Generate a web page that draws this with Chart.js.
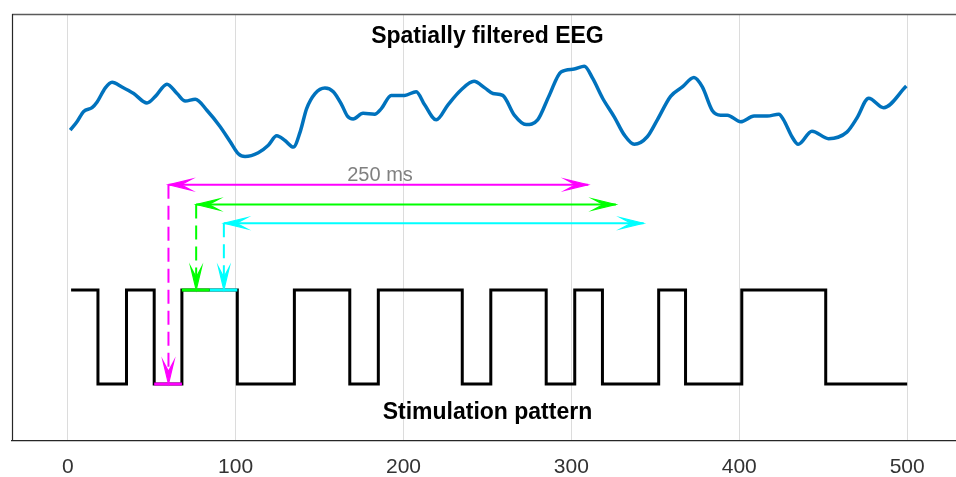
<!DOCTYPE html>
<html>
<head>
<meta charset="utf-8">
<script src="https://cdn.jsdelivr.net/npm/chart.js@4.4.1/dist/chart.umd.min.js"></script>
<style>
  html, body { margin: 0; padding: 0; background: #ffffff; }
  #wrap { width: 956px; height: 477px; }
</style>
</head>
<body>
<div id="wrap"><canvas id="c" width="956" height="477"></canvas></div>
<script>
// x axis (ms)
const xTicks = [0, 100, 200, 300, 400, 500];

// spatially filtered EEG trace
const eegTime = [1.5, 5.5, 9.5, 14.5, 17.5, 22.4, 26.4, 32.3, 39.3, 47.2, 52.2, 59.1, 65.1, 70.0, 76.0, 83.0,
  90.7, 96.7, 101.6, 105.6, 113.5, 119.5, 124.5, 129.4, 134.4, 138.4, 142.3, 147.3, 153.2, 158.2, 163.2,
  166.6, 170.0, 175.9, 182.8, 186.8, 192.7, 200.7, 207.6, 212.6, 219.5, 226.5, 234.4, 242.0, 248.4, 253.3,
  259.1, 266.0, 273.0, 279.9, 286.8, 293.8, 301.7, 307.7, 312.7, 318.6, 325.6, 331.5, 337.5, 345.2, 351.2,
  359.1, 366.1, 373.0, 378.0, 383.9, 388.9, 392.9, 400.8, 408.8, 416.7, 423.6, 426.4, 431.4, 435.1, 443.3,
  453.2, 464.1, 470.1, 477.1, 486.0, 499.5];
const eegValue = [2.70, 2.79, 2.90, 2.94, 3.00, 3.15, 3.21, 3.16, 3.09, 2.99, 3.06, 3.19, 3.09, 3.01, 3.03, 2.91,
  2.74, 2.58, 2.45, 2.42, 2.46, 2.54, 2.64, 2.59, 2.52, 2.68, 2.93, 3.09, 3.15, 3.11, 2.97,
  2.85, 2.82, 2.88, 2.87, 2.93, 3.07, 3.07, 3.11, 2.97, 2.81, 2.97, 3.13, 3.22, 3.15, 3.09,
  3.07, 2.86, 2.76, 2.81, 3.07, 3.32, 3.35, 3.38, 3.25, 3.04, 2.84, 2.65, 2.55, 2.63, 2.81,
  3.06, 3.16, 3.26, 3.16, 2.91, 2.86, 2.86, 2.79, 2.85, 2.85, 2.87, 2.81, 2.63, 2.55, 2.69,
  2.61, 2.68, 2.83, 3.04, 2.94, 3.17];

// stimulation pattern: level holds from each time until the next one
const stimTime  = [2, 18, 35, 51.5, 68, 101, 135, 168, 185, 235, 252, 285, 302, 318.5, 352, 368, 401.5, 451.5, 500];
const stimLevel = [1, 0, 1, 0, 1, 0, 1, 0, 1, 0, 1, 0, 1, 0, 1, 0, 1, 0, 0];

// three consecutive frames and the 250 ms windows that start from them
const markerColor = ['#ff00ff', '#00ff00', '#00ffff'];
const frameStart  = [51.5, 68, 84.5];
const frameEnd    = [68, 84.5, 101];
const frameLevel  = [0, 1, 1];
const arrowStart  = [60, 76.5, 93];
const arrowLevel  = [2.12, 1.91, 1.71];
const windowLength = 250;
const windowLabel = '250 ms';
const windowLabelPos = { x: 186, y: 2.22 };

const titles = [
  { text: 'Spatially filtered EEG', x: 250, y: 3.69 },
  { text: 'Stimulation pattern', x: 250, y: -0.30 }
];

const datasets = [];
datasets.push({
  data: eegTime.map((t, i) => ({ x: t, y: eegValue[i] })),
  borderColor: '#0072BD', borderWidth: 3.5, tension: 0.4, cubicInterpolationMode: 'monotone',
  pointRadius: 0, order: 5
});
datasets.push({
  data: stimTime.map((t, i) => ({ x: t, y: stimLevel[i] })),
  borderColor: '#000000', borderWidth: 3, stepped: true, pointRadius: 0, order: 4,
  borderCapStyle: 'butt', borderJoinStyle: 'miter'
});
markerColor.forEach((col, i) => {
  datasets.push({
    data: [{ x: frameStart[i], y: frameLevel[i] }, { x: frameEnd[i], y: frameLevel[i] }],
    borderColor: col, borderWidth: 3, pointRadius: 0, order: 1
  });
  datasets.push({
    data: [{ x: arrowStart[i], y: arrowLevel[i] }, { x: arrowStart[i] + windowLength, y: arrowLevel[i] }],
    borderColor: col, borderWidth: 2, pointRadius: 0, order: 2
  });
  datasets.push({
    data: [{ x: arrowStart[i], y: arrowLevel[i] }, { x: arrowStart[i], y: frameLevel[i] + 0.08 }],
    borderColor: col, borderWidth: 2, borderDash: [14, 7], pointRadius: 0, order: 2
  });
});

function arrowHead(ctx, x, y, ang, color) {
  const L = 23, W = 5.5, N = 0.55;
  ctx.save();
  ctx.translate(x, y);
  ctx.rotate(ang);
  ctx.beginPath();
  ctx.moveTo(0, 0);
  ctx.lineTo(-L, -W);
  ctx.lineTo(-L * N, 0);
  ctx.lineTo(-L, W);
  ctx.closePath();
  ctx.fillStyle = color;
  ctx.strokeStyle = color;
  ctx.lineWidth = 1.2;
  ctx.lineJoin = 'miter';
  ctx.fill();
  ctx.stroke();
  ctx.restore();
}

const overlay = {
  id: 'overlay',
  afterDatasetsDraw(chart) {
    const { ctx, chartArea, scales } = chart;
    const xs = scales.x, ys = scales.y;
    // frame of the axes box
    ctx.save();
    ctx.strokeStyle = '#5a5a5a';
    ctx.lineWidth = 1.5;
    ctx.beginPath();
    ctx.moveTo(chartArea.left, chartArea.top + 0.5);
    ctx.lineTo(chartArea.right, chartArea.top + 0.5);
    ctx.stroke();
    ctx.strokeStyle = '#262626';
    ctx.lineWidth = 1.2;
    ctx.beginPath();
    ctx.moveTo(chartArea.left + 0.5, chartArea.top);
    ctx.lineTo(chartArea.left + 0.5, chartArea.bottom);
    ctx.stroke();
    ctx.restore();

    // arrow heads
    markerColor.forEach((col, i) => {
      const x0 = xs.getPixelForValue(arrowStart[i]);
      const x1 = xs.getPixelForValue(arrowStart[i] + windowLength);
      const yl = ys.getPixelForValue(arrowLevel[i]);
      const yt = ys.getPixelForValue(frameLevel[i]);
      arrowHead(ctx, x0, yl, Math.PI, col);
      arrowHead(ctx, x1, yl, 0, col);
      arrowHead(ctx, x0, yt, Math.PI / 2, col);
    });

    // texts
    ctx.save();
    ctx.textAlign = 'center';
    ctx.textBaseline = 'middle';
    ctx.fillStyle = '#808080';
    ctx.font = '20px "Liberation Sans", Arial, sans-serif';
    ctx.fillText(windowLabel, xs.getPixelForValue(windowLabelPos.x), ys.getPixelForValue(windowLabelPos.y));
    ctx.fillStyle = '#000000';
    ctx.font = 'bold 23px "Liberation Sans", Arial, sans-serif';
    titles.forEach(t => ctx.fillText(t.text, xs.getPixelForValue(t.x), ys.getPixelForValue(t.y)));
    ctx.restore();
  }
};

new Chart(document.getElementById('c'), {
  type: 'line',
  data: { datasets },
  options: {
    responsive: false,
    animation: false,
    devicePixelRatio: 1,
    layout: { padding: { top: 14, left: 12, right: 0, bottom: 0 } },
    plugins: { legend: { display: false }, tooltip: { enabled: false }, title: { display: false } },
    scales: {
      x: {
        type: 'linear',
        min: -33.2,
        max: 529.1,
        afterBuildTicks(scale) { scale.ticks = xTicks.map(v => ({ value: v })); },
        afterFit(scale) { scale.height = 36; },
        grid: { color: '#dcdcdc', lineWidth: 1, drawTicks: false },
        border: { color: '#262626', width: 1.2 },
        ticks: {
          padding: 14,
          color: '#333333',
          font: { family: '"Liberation Sans", Arial, sans-serif', size: 21 }
        }
      },
      y: {
        type: 'linear',
        display: false,
        min: -0.606,
        max: 3.936
      }
    }
  },
  plugins: [overlay]
});
</script>
</body>
</html>
